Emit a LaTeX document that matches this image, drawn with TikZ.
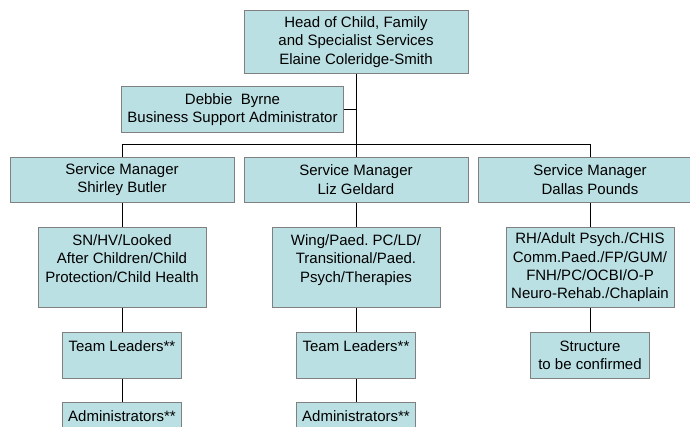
\documentclass[tikz,border=0pt]{standalone}
\usepackage{fontspec}
\setmainfont{Liberation Sans}
\frenchspacing
\definecolor{boxfill}{HTML}{BBE0E3}
\definecolor{boxline}{HTML}{808080}
\begin{document}
\begin{tikzpicture}[x=1pt,y=-1pt,
  orgbox/.style={draw=boxline,line width=0.9pt,fill=boxfill,inner sep=0pt,
    align=center,font=\fontsize{15}{18.3}\selectfont},
  link/.style={draw=black,line width=0.8pt}]
\useasboundingbox (0,0) rectangle (690,426);
\fill[white] (0,0) rectangle (690,426);
% nodes
\node[orgbox,minimum width=224pt,minimum height=62.6pt] (top) at (356,42) {Head of Child, Family\\and Specialist Services\\Elaine Coleridge-Smith};
\node[orgbox,minimum width=221.5pt,minimum height=45.3pt] (debbie) at (232.5,109.3) {Debbie\ \ Byrne\\Business Support Administrator};
\node[orgbox,minimum width=224pt,minimum height=45.3pt] (sm1) at (122,179.7) {Service Manager\\Shirley Butler};
\node[orgbox,minimum width=224pt,minimum height=45.3pt] (sm2) at (356,179.7) {Service Manager\\Liz Geldard};
\node[orgbox,minimum width=224pt,minimum height=45.3pt] (sm3) at (590,179.7) {Service Manager\\Dallas Pounds};
\node[orgbox,minimum width=168pt,minimum height=80.4pt] (r1) at (122,267.5) {SN/HV/Looked\\After Children/Child\\Protection/Child Health\\\mbox{}};
\node[orgbox,minimum width=168pt,minimum height=80.4pt] (r2) at (356,267.5) {Wing/Paed. PC/LD/\\Transitional/Paed.\\Psych/Therapies\\\mbox{}};
\node[orgbox,minimum width=168pt,minimum height=80.4pt] (r3) at (590,267.5) {RH/Adult Psych./CHIS\\Comm.Paed./FP/GUM/\\FNH/PC/OCBI/O-P\\Neuro-Rehab./Chaplain};
\node[orgbox,minimum width=119.5pt,minimum height=46pt] (tl1) at (122,355.3) {Team Leaders**\\\mbox{}};
\node[orgbox,minimum width=119.5pt,minimum height=46pt] (tl2) at (356,355.3) {Team Leaders**\\\mbox{}};
\node[orgbox,minimum width=119.5pt,minimum height=46pt] (st3) at (590,355.3) {Structure\\to be confirmed};
\node[orgbox,minimum width=119.5pt,minimum height=46pt] (ad1) at (122,425.3) {Administrators**\\\mbox{}};
\node[orgbox,minimum width=119.5pt,minimum height=46pt] (ad2) at (356,425.3) {Administrators**\\\mbox{}};
\coordinate (bus) at (356,144.3);
% connectors
\draw[link] (top.south) -- (bus);
\draw[link] (debbie.east) -- (debbie.east -| top.south);
\draw[link] (sm1.north) |- (bus);
\draw[link] (sm3.north) |- (bus);
\draw[link] (sm2.north) -- (bus);
\draw[link] (sm1.south) -- (r1.north);
\draw[link] (sm2.south) -- (r2.north);
\draw[link] (sm3.south) -- (r3.north);
\draw[link] (r1.south) -- (tl1.north);
\draw[link] (r2.south) -- (tl2.north);
\draw[link] (r3.south) -- (st3.north);
\draw[link] (tl1.south) -- (ad1.north);
\draw[link] (tl2.south) -- (ad2.north);
\end{tikzpicture}
\end{document}
